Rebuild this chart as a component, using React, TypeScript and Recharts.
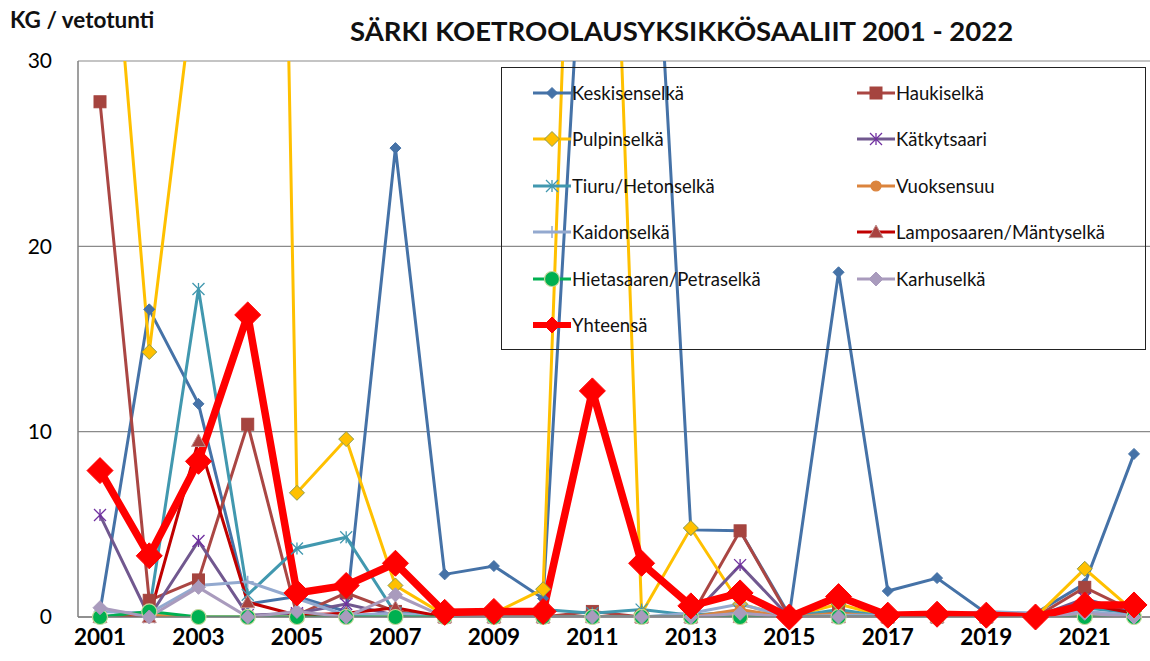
import React from "react";
import { LineChart, Line, XAxis, YAxis, CartesianGrid, Legend } from "recharts";

const years = [
  "2001", "2002", "2003", "2004", "2005", "2006", "2007", "2008", "2009", "2010", "2011",
  "2012", "2013", "2014", "2015", "2016", "2017", "2018", "2019", "2020", "2021", "2022",
];

// KG / vetotunti per alue
const keskisenselka = [0.3, 16.6, 11.5, 0.7, 1.1, 0.3, 25.3, 2.3, 2.75, 1.0, 47, 52, 4.7, 4.65, 0.1, 18.6, 1.4, 2.1, 0.2, 0.2, 1.8, 8.8];
const haukiselka = [27.8, 0.9, 2.0, 10.4, 0.1, 1.3, 0.3, 0, 0, 0, 0.3, 0, 0, 4.65, 0, 0.3, 0, 0, 0, 0, 1.6, 0.3];
const pulpinselka = [46, 14.3, 36, 148, 6.7, 9.6, 1.7, 0.1, 0.2, 1.5, 74, 0.2, 4.8, 0.7, 0, 0.7, 0, 0, 0, 0, 2.6, 0.3];
const katkytsaari = [5.5, 0, 4.1, 0.1, 0.2, 0.7, 0.1, 0, 0, 0, 0, 0, 0, 2.8, 0, 0, 0, 0, 0, 0, 1.0, 0.2];
const tiuru = [0, 0.3, 17.7, 1.2, 3.7, 4.3, 0.2, 0.1, 0.1, 0.4, 0.2, 0.4, 0.1, 0.3, 0, 0.4, 0, 0, 0, 0, 0.5, 0.2];
const vuoksensuu = [0, 0.1, 0, 0, 0, 0, 0, 0, 0, 0, 0, 0, 0, 0.4, 0, 0.2, 0, 0, 0, 0, 0.1, 0];
const kaidonselka = [0.3, 0.2, 1.7, 1.9, 1.0, 0.1, 0.2, 0, 0, 0, 0, 0, 0.2, 0.7, 0, 0.1, 0.1, 0.1, 0.3, 0.2, 0.3, 0.1];
const lamposaari = [0, 0, 9.5, 0.8, 0.1, 0.2, 0.5, 0, 0, 0, 0, 0, 0, 0, 0, 0, 0, 0, 0, 0, 0.7, 0.2];
const hietasaari = [0, 0.3, 0, 0, 0, 0, 0, 0, 0, 0, 0, 0, 0, 0, 0, 0, 0, 0, 0, 0, 0, 0];
const karhuselka = [0.5, 0, 1.6, 0, 0.3, 0, 1.2, 0, 0, 0, 0, 0, 0, 0.2, 0, 0, 0, 0, 0.1, 0, 0.2, 0];
const yhteensa = [7.9, 3.3, 8.4, 16.3, 1.3, 1.7, 2.9, 0.25, 0.3, 0.3, 12.2, 2.9, 0.6, 1.3, 0, 1.1, 0.1, 0.15, 0.1, 0, 0.65, 0.65];

const yTicks = [0, 10, 20, 30];
const yMax = 30;

type Shape = "diamond" | "square" | "asterisk" | "circle" | "plus" | "triangle";

const seriesDefs = [
  { key: "Keskisenselkä", values: keskisenselka, color: "#4572A7", shape: "diamond" as Shape, size: 5.5, fill: "#4572A7", edge: "#4572A7", width: 3 },
  { key: "Haukiselkä", values: haukiselka, color: "#AA4643", shape: "square" as Shape, size: 6, fill: "#A5443F", edge: "#A5443F", width: 3 },
  { key: "Pulpinselkä", values: pulpinselka, color: "#FFC000", shape: "diamond" as Shape, size: 7.5, fill: "#FFC000", edge: "#8C9A4A", width: 3 },
  { key: "Kätkytsaari", values: katkytsaari, color: "#71588F", shape: "asterisk" as Shape, size: 6, fill: "none", edge: "#7030A0", width: 3 },
  { key: "Tiuru/Hetonselkä", values: tiuru, color: "#4198AF", shape: "asterisk" as Shape, size: 6, fill: "none", edge: "#4198AF", width: 3 },
  { key: "Vuoksensuu", values: vuoksensuu, color: "#DB843D", shape: "circle" as Shape, size: 5, fill: "#DB843D", edge: "#DB843D", width: 3 },
  { key: "Kaidonselkä", values: kaidonselka, color: "#93A9CF", shape: "plus" as Shape, size: 6, fill: "none", edge: "#93A9CF", width: 3 },
  { key: "Lamposaaren/Mäntyselkä", values: lamposaari, color: "#C00000", shape: "triangle" as Shape, size: 7, fill: "#A9423F", edge: "#C0908E", width: 3 },
  { key: "Hietasaaren/Petraselkä", values: hietasaari, color: "#00B050", shape: "circle" as Shape, size: 7.5, fill: "#00B050", edge: "#C4D79B", width: 3 },
  { key: "Karhuselkä", values: karhuselka, color: "#A99BBD", shape: "diamond" as Shape, size: 7, fill: "#A99BBD", edge: "#A99BBD", width: 3 },
  { key: "Yhteensä", values: yhteensa, color: "#FF0000", shape: "diamond" as Shape, size: 13, fill: "#FF0000", edge: "#FF0000", width: 7.5 },
];

const data = years.map((year, i) => {
  const row: Record<string, string | number> = { year };
  seriesDefs.forEach((s) => {
    row[s.key] = s.values[i];
  });
  return row;
});

function marker(shape: Shape, cx: number, cy: number, s: number, fill: string, edge: string) {
  switch (shape) {
    case "diamond":
      return <polygon points={`${cx},${cy - s} ${cx + s},${cy} ${cx},${cy + s} ${cx - s},${cy}`} fill={fill} stroke={edge} strokeWidth={1} />;
    case "square":
      return <rect x={cx - s} y={cy - s} width={2 * s} height={2 * s} fill={fill} stroke={edge} strokeWidth={1} />;
    case "triangle":
      return <polygon points={`${cx},${cy - s} ${cx + s},${cy + s * 0.8} ${cx - s},${cy + s * 0.8}`} fill={fill} stroke={edge} strokeWidth={1} />;
    case "circle":
      return <circle cx={cx} cy={cy} r={s} fill={fill} stroke={edge} strokeWidth={1.2} />;
    case "plus":
      return (
        <g stroke={edge} strokeWidth={1.5}>
          <line x1={cx - s} y1={cy} x2={cx + s} y2={cy} />
          <line x1={cx} y1={cy - s} x2={cx} y2={cy + s} />
        </g>
      );
    case "asterisk":
      return (
        <g stroke={edge} strokeWidth={1.3}>
          <line x1={cx - s} y1={cy - s} x2={cx + s} y2={cy + s} />
          <line x1={cx - s} y1={cy + s} x2={cx + s} y2={cy - s} />
          <line x1={cx} y1={cy - s} x2={cx} y2={cy + s} />
        </g>
      );
  }
}

const ShapeDot = (props: any) => {
  const { cx, cy, value, shape, size, mfill, medge } = props;
  if (cx == null || cy == null || isNaN(cy) || value > yMax) return null;
  return marker(shape, cx, cy, size, mfill, medge);
};

// element + clipDot:false so markers sitting on the 0 line are not cut in half
const dotFor = (s: (typeof seriesDefs)[number]) =>
  Object.assign(
    {},
    <ShapeDot shape={s.shape} size={s.size} mfill={s.fill} medge={s.edge} r={16} strokeWidth={2} />,
    { clipDot: false, r: 16, strokeWidth: 2 }
  ) as any;

const renderLegend = () => (
  <div
    style={{
      position: "relative",
      width: 645,
      height: 283,
      border: "1.5px solid #222",
      boxSizing: "border-box",
      fontFamily: "Lato, sans-serif",
      fontSize: 18.5,
      color: "#111",
    }}
  >
    {seriesDefs.map((s, i) => {
      const col = i % 2;
      const row = Math.floor(i / 2);
      const left = col === 0 ? 30 : 354;
      const top = 25 + row * 46.4 - 12;
      const ms = Math.min(s.size, 7.5);
      return (
        <div key={s.key} style={{ position: "absolute", left, top, height: 24, display: "flex", alignItems: "center" }}>
          <svg width={40} height={24} style={{ display: "block" }}>
            <line x1={1} y1={12} x2={39} y2={12} stroke={s.color} strokeWidth={s.key === "Yhteensä" ? 6 : 3} />
            {marker(s.shape, 20, 12, s.key === "Yhteensä" ? 8 : ms, s.fill, s.edge)}
          </svg>
          <span style={{ whiteSpace: "nowrap" }}>{s.key}</span>
        </div>
      );
    })}
  </div>
);

export default function App() {
  return (
    <div style={{ position: "absolute", left: 0, top: 0, width: 1150, height: 661, overflow: "hidden", background: "#fff", fontFamily: "Lato, sans-serif" }}>
      <div style={{ position: "absolute", left: 10, top: 6, fontSize: 22.5, fontWeight: 700, color: "#111", whiteSpace: "nowrap" }}>KG / vetotunti</div>
      <div style={{ position: "absolute", left: 350, top: 14, fontSize: 27.5, fontWeight: 700, color: "#111", whiteSpace: "nowrap" }}>
        SÄRKI KOETROOLAUSYKSIKKÖSAALIIT 2001 - 2022
      </div>
      <LineChart width={1150} height={661} data={data} margin={{ top: 61, right: 0, left: 0, bottom: 0 }}>
        <CartesianGrid horizontal vertical={false} stroke="#8a8a8a" strokeWidth={1.2} />
        <XAxis
          dataKey="year"
          interval={1}
          padding={{ left: 22, right: 16 }}
          height={44}
          tickLine={false}
          axisLine={{ stroke: "#7f7f7f", strokeWidth: 1.5 }}
          tick={{ fontSize: 22.5, fontWeight: 700, fill: "#000", fontFamily: "Lato, sans-serif" }}
          tickMargin={6}
        />
        <YAxis
          domain={[0, yMax]}
          ticks={yTicks}
          allowDataOverflow
          width={78}
          tickLine={false}
          axisLine={{ stroke: "#7f7f7f", strokeWidth: 1.5 }}
          tick={{ fontSize: 21, fill: "#000", fontFamily: "Lato, sans-serif" }}
          tickMargin={20}
        />
        <Legend
          content={renderLegend}
          layout="vertical"
          align="center"
          verticalAlign="middle"
          wrapperStyle={{ position: "absolute", left: 501, top: 67, width: 645, height: 283 }}
        />
        {seriesDefs.map((s) => (
          <Line
            key={s.key}
            dataKey={s.key}
            type="linear"
            stroke={s.color}
            strokeWidth={s.width}
            dot={dotFor(s)}
            activeDot={false}
            isAnimationActive={false}
          />
        ))}
      </LineChart>
    </div>
  );
}
